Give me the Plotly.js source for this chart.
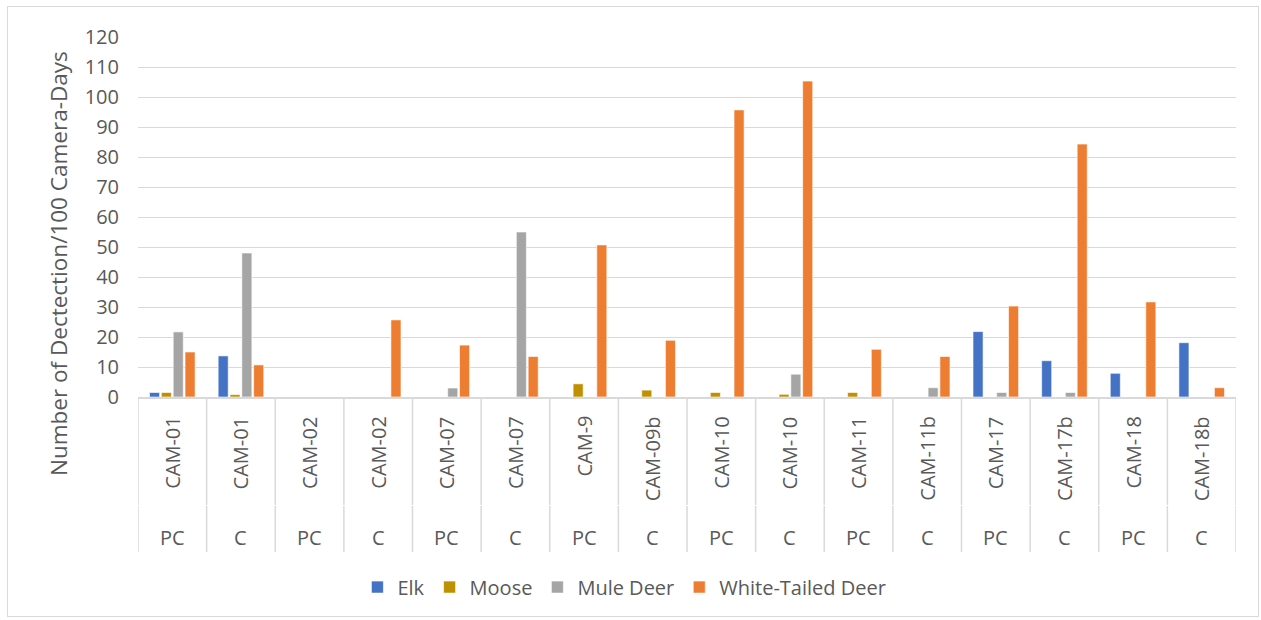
<!DOCTYPE html>
<html>
<head>
<meta charset="utf-8">
<script src="https://cdn.plot.ly/plotly-3.0.1.min.js"></script>
<style>
  html, body { margin: 0; padding: 0; background: #fff; }
  #wrap { position: relative; width: 1261px; height: 620px; }
  #chart { width: 1261px; height: 620px; }
  #frame { position: absolute; left: 7px; top: 6px; width: 1250px; height: 609px; border: 1px solid #d9d9d9; pointer-events: none; }
</style>
</head>
<body>
<div id="wrap">
  <div id="chart"></div>
  <div id="frame"></div>
</div>
<script>
const cameras = ["CAM-01","CAM-01","CAM-02","CAM-02","CAM-07","CAM-07","CAM-9","CAM-09b","CAM-10","CAM-10","CAM-11","CAM-11b","CAM-17","CAM-17b","CAM-18","CAM-18b"];
const siteTypes = ["PC","C","PC","C","PC","C","PC","C","PC","C","PC","C","PC","C","PC","C"];

const elk       = [1.5, 13.7, 0, 0, 0, 0, 0, 0, 0, 0, 0, 0, 21.8, 12.1, 7.9, 18.1];
const moose     = [1.5, 0.8, 0, 0, 0, 0, 4.4, 2.3, 1.5, 0.9, 1.5, 0, 0, 0, 0, 0];
const muleDeer  = [21.7, 48.0, 0, 0, 3.0, 55.0, 0, 0, 0, 7.6, 0, 3.1, 1.5, 1.5, 0, 0];
const whiteTail = [15.0, 10.7, 0, 25.7, 17.3, 13.5, 50.7, 18.9, 95.7, 105.3, 15.9, 13.5, 30.3, 84.3, 31.7, 3.1];

const seriesNames  = ["Elk", "Moose", "Mule Deer", "White-Tailed Deer"];
const seriesValues = [elk, moose, muleDeer, whiteTail];
const seriesColors = ["#4472C4", "#BF9000", "#A5A5A5", "#ED7D31"];
const yTitle = "Number of Dectection/100 Camera-Days";

const fontFam = "'Open Sans', 'Noto Sans', sans-serif";
const txt = "#595959";
const grid = "#d9d9d9";

// unique category keys: camera + site type
const catKeys = cameras.map((c, i) => c + " " + siteTypes[i]);

const traces = seriesNames.map((n, i) => ({
  type: "bar",
  name: n,
  x: catKeys,
  y: seriesValues[i],
  marker: { color: seriesColors[i], line: { color: "rgba(255,255,255,0.6)", width: 1 } },
  hovertemplate: "%{x}<br>" + n + ": %{y}<extra></extra>"
}));

// plot area geometry (px) used to express label positions in paper units
const plotH = 360;
const px2paperY = p => -p / plotH;   // p = pixels below the x axis line

const annotations = [];
cameras.forEach((c, i) => {
  annotations.push({
    text: c, x: catKeys[i], xref: "x", y: px2paperY(17), yref: "paper",
    xanchor: "center", yanchor: "top", textangle: -90, showarrow: false,
    font: { family: fontFam, size: 20, color: txt }
  });
  annotations.push({
    text: siteTypes[i], x: catKeys[i], xref: "x", y: px2paperY(140), yref: "paper",
    xanchor: "center", yanchor: "middle", showarrow: false,
    font: { family: fontFam, size: 20, color: txt }
  });
});
annotations.push({
  text: yTitle, xref: "paper", x: -0.0729, yref: "paper", y: 0.372,
  xanchor: "center", yanchor: "middle", textangle: -90, showarrow: false,
  font: { family: fontFam, size: 22.5, color: txt }
});

const shapes = [];
for (let i = 0; i <= cameras.length; i++) {
  shapes.push({ type: "line", xref: "x", yref: "paper", x0: i - 0.5, x1: i - 0.5,
    y0: 0, y1: px2paperY(108), line: { color: grid, width: 1.5 } });
  shapes.push({ type: "line", xref: "x", yref: "paper", x0: i - 0.5, x1: i - 0.5,
    y0: px2paperY(109), y1: px2paperY(155), line: { color: grid, width: 1.5 } });
}

const layout = {
  width: 1261, height: 620,
  margin: { l: 138, r: 25, t: 37, b: 223 },
  paper_bgcolor: "#ffffff", plot_bgcolor: "#ffffff",
  barmode: "group",
  bargap: 0.31,
  bargroupgap: 0.15,
  font: { family: fontFam, color: txt, size: 20 },
  showlegend: true,
  legend: {
    orientation: "h", x: 0.443, xanchor: "center", y: -0.528, yanchor: "middle",
    font: { family: fontFam, size: 20, color: txt },
    itemwidth: 30, traceorder: "normal"
  },
  xaxis: {
    type: "category",
    range: [-0.5, cameras.length - 0.5],
    showline: true, linecolor: grid, linewidth: 1.5,
    showticklabels: false, ticks: "", showgrid: false, zeroline: false
  },
  yaxis: {
    range: [0, 120], dtick: 10, tick0: 0,
    showgrid: true, gridcolor: grid, gridwidth: 1,
    zeroline: false, showline: false, ticks: "",
    ticklabelstandoff: 18,
    tickfont: { family: fontFam, size: 20, color: txt }
  },
  annotations: annotations,
  shapes: shapes
};

Plotly.newPlot("chart", traces, layout, { displayModeBar: false });
</script>
</body>
</html>
